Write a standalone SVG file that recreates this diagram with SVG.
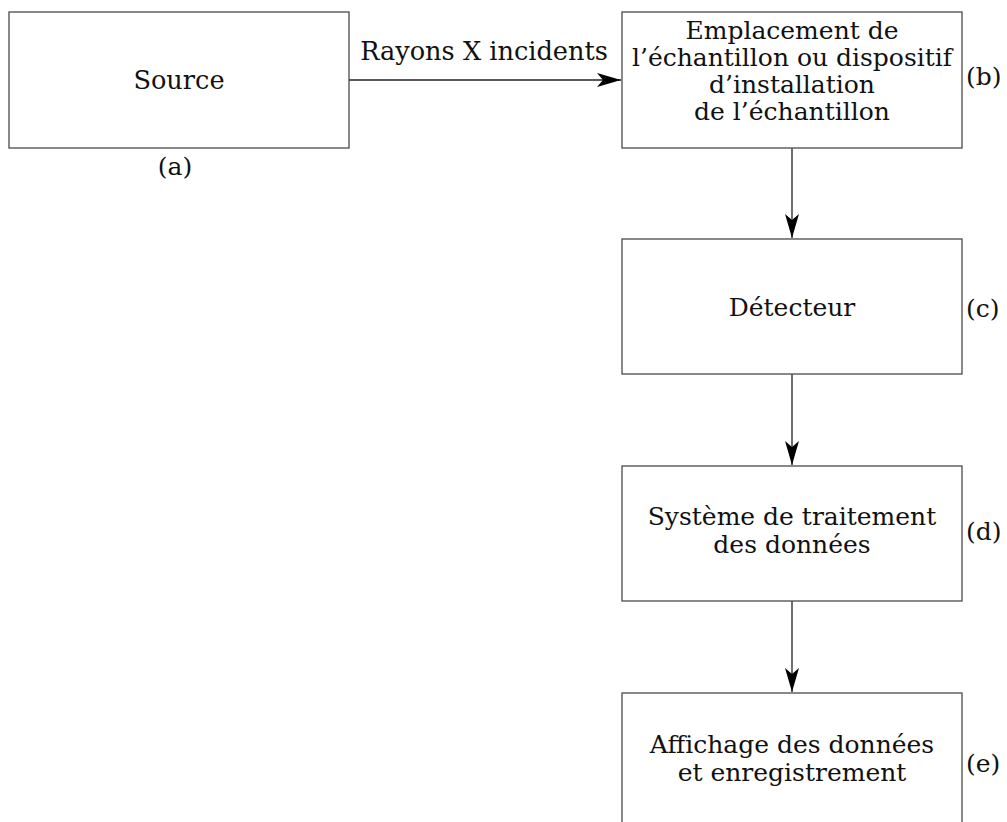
<svg xmlns="http://www.w3.org/2000/svg" width="1007" height="822" viewBox="0 0 1007 822">
<style>
.box{fill:#fff;stroke:#4a4a4a;stroke-width:1.3}
.t{font-family:"DejaVu Serif","Liberation Serif",serif;font-size:25px;fill:#111;text-anchor:middle}
.lbl{font-family:"DejaVu Serif","Liberation Serif",serif;font-size:25px;fill:#111;text-anchor:start}
.conn{stroke:#222;stroke-width:1.3;fill:none}
</style>
<defs>
<marker id="ah" markerUnits="userSpaceOnUse" markerWidth="26" markerHeight="16" refX="24" refY="7" orient="auto">
<path d="M0,0 L24,7 L0,14 L6,7 Z" fill="#000"/>
</marker>
</defs>
<rect width="1007" height="822" fill="#fff"/>
<g id="connectors">
<line class="conn" x1="349" y1="80" x2="621" y2="80" marker-end="url(#ah)"/>
<line class="conn" x1="792" y1="148" x2="792" y2="238" marker-end="url(#ah)"/>
<line class="conn" x1="792" y1="374" x2="792" y2="465" marker-end="url(#ah)"/>
<line class="conn" x1="792" y1="601" x2="792" y2="692" marker-end="url(#ah)"/>
<text class="t" x="484" y="60" style="font-size:25.6px">Rayons X incidents</text>
</g>
<g id="node-a">
<rect class="box" x="9" y="12" width="340" height="136"/>
<text class="t" x="179" y="89" style="font-size:25.6px">Source</text>
<text class="t" x="175" y="175">(a)</text>
</g>
<g id="node-b">
<rect class="box" x="622" y="12" width="340" height="136"/>
<text class="t" x="792" y="39">Emplacement de</text>
<text class="t" x="792" y="66">l’échantillon ou dispositif</text>
<text class="t" x="792" y="93">d’installation</text>
<text class="t" x="792" y="120">de l’échantillon</text>
<text class="lbl" x="966" y="85">(b)</text>
</g>
<g id="node-c">
<rect class="box" x="622" y="239" width="340" height="135"/>
<text class="t" x="792" y="316">Détecteur</text>
<text class="lbl" x="966" y="317">(c)</text>
</g>
<g id="node-d">
<rect class="box" x="622" y="466" width="340" height="135"/>
<text class="t" x="792" y="525">Système de traitement</text>
<text class="t" x="792" y="553">des données</text>
<text class="lbl" x="966" y="540">(d)</text>
</g>
<g id="node-e">
<rect class="box" x="622" y="693" width="340" height="140"/>
<text class="t" x="792" y="753">Affichage des données</text>
<text class="t" x="792" y="781">et enregistrement</text>
<text class="lbl" x="966" y="772">(e)</text>
</g>
</svg>
